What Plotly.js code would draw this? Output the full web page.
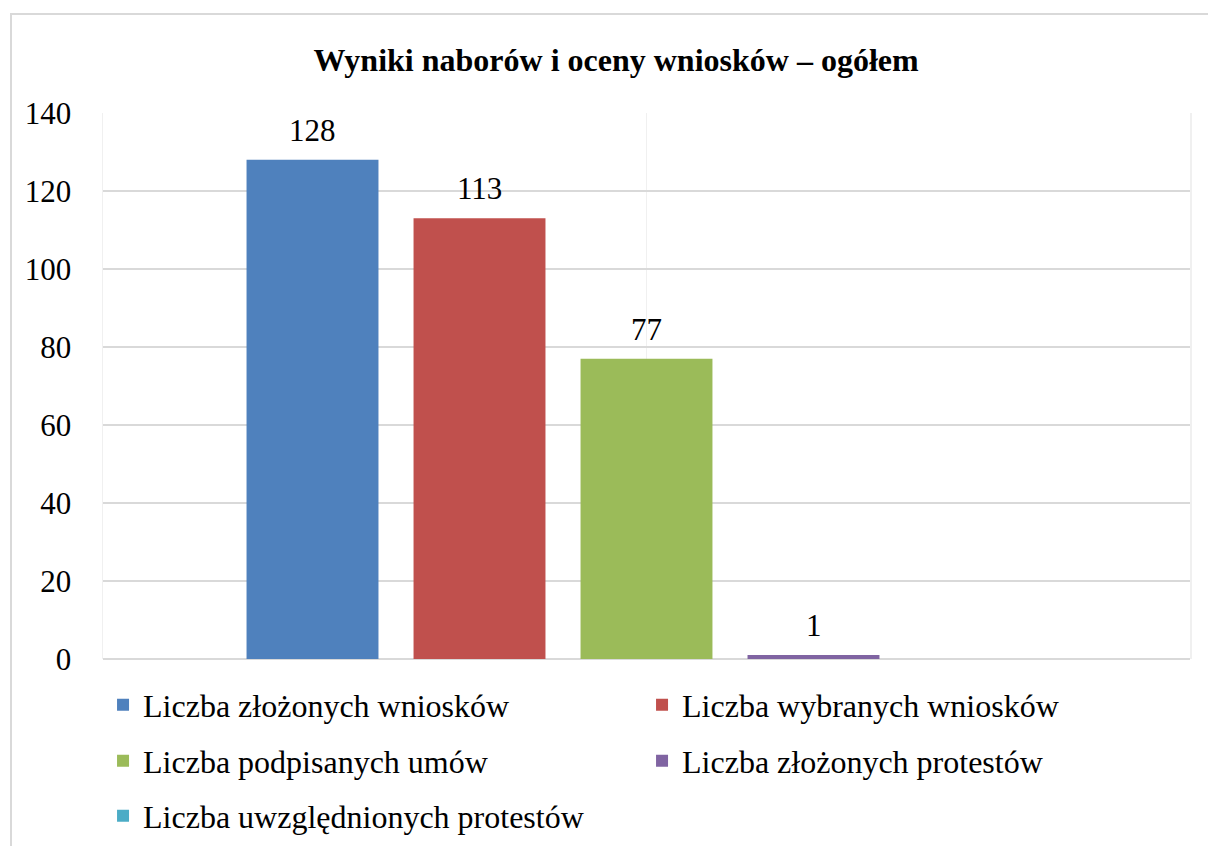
<!DOCTYPE html>
<html>
<head>
<meta charset="utf-8">
<script src="https://cdn.plot.ly/plotly-3.0.1.min.js"></script>
<style>
  body { margin: 0; background: #fff; overflow: hidden; }
  #wrap { position: relative; width: 1208px; height: 846px; }
  #frame { position: absolute; left: 10px; top: 13px; width: 1300px; height: 900px;
           border: 2px solid #d9d9d9; pointer-events: none; }
</style>
</head>
<body>
<div id="wrap">
  <div id="chart" style="width:1208px;height:846px"></div>
  <div id="frame"></div>
</div>
<script>
// dane
var names = [
  'Liczba złożonych wniosków',
  'Liczba wybranych wniosków',
  'Liczba podpisanych umów',
  'Liczba złożonych protestów',
  'Liczba uwzględnionych protestów'
]
var values = [128, 113, 77, 1, 0]
var colors = ['#4F81BD', '#C0504D', '#9BBB59', '#8064A2', '#4BACC6']
var legendOf = ['legend', 'legend', 'legend2', 'legend2', 'legend3']

var font = 'Liberation Serif, Times New Roman, serif'

var data = names.map(function (n, i) {
  return {
    type: 'bar',
    x: [n],
    y: [values[i]],
    name: n,
    width: 0.79,
    marker: { color: colors[i] },
    legend: legendOf[i],
    hoverinfo: 'y'
  }
})

// etykiety wartości nad słupkami (bez zera)
var annotations = []
values.forEach(function (v, i) {
  if (v > 0) {
    annotations.push({
      x: names[i], y: v, xref: 'x', yref: 'y',
      yanchor: 'bottom', yshift: 10,
      text: String(v), showarrow: false,
      font: { family: font, size: 31, color: '#000' }
    })
  }
})

var legendBase = {
  orientation: 'h',
  xref: 'container',
  yref: 'container',
  x: 0.0853,
  xanchor: 'left',
  yanchor: 'middle',
  entrywidthmode: 'pixels',
  entrywidth: 494,
  font: { family: font, size: 32, color: '#000' },
  bgcolor: 'rgba(0,0,0,0)'
}

var layout = {
  width: 1208,
  height: 846,
  margin: { l: 103, r: 18, t: 113, b: 187 },
  paper_bgcolor: '#fff',
  plot_bgcolor: '#fff',
  barmode: 'overlay',
  showlegend: true,
  title: {
    text: '<b>Wyniki naborów i oceny wniosków – ogółem</b>',
    font: { family: font, size: 32, color: '#000' },
    xref: 'container', x: 0.51, xanchor: 'center',
    yref: 'container', y: 0.929, yanchor: 'middle'
  },
  xaxis: {
    type: 'category',
    range: [-1.2545, 5.2545],
    tickvals: [names[2]],
    showticklabels: false,
    showgrid: true,
    gridcolor: '#f0f0f0',
    gridwidth: 1.5,
    zeroline: false,
    fixedrange: true
  },
  yaxis: {
    range: [0, 140],
    dtick: 20,
    showgrid: true,
    gridcolor: '#d9d9d9',
    gridwidth: 1.5,
    zeroline: true,
    zerolinecolor: '#d9d9d9',
    zerolinewidth: 1.5,
    showline: true,
    mirror: true,
    linecolor: '#f0f0f0',
    linewidth: 1.5,
    ticklabelstandoff: 24,
    tickfont: { family: font, size: 31, color: '#000' },
    fixedrange: true
  },
  legend: Object.assign({}, legendBase, { y: 0.1667 }),
  legend2: Object.assign({}, legendBase, { y: 0.1005 }),
  legend3: Object.assign({}, legendBase, { y: 0.0355 }),
  annotations: annotations
}

Plotly.newPlot('chart', data, layout, { displayModeBar: false, staticPlot: true })
</script>
</body>
</html>
